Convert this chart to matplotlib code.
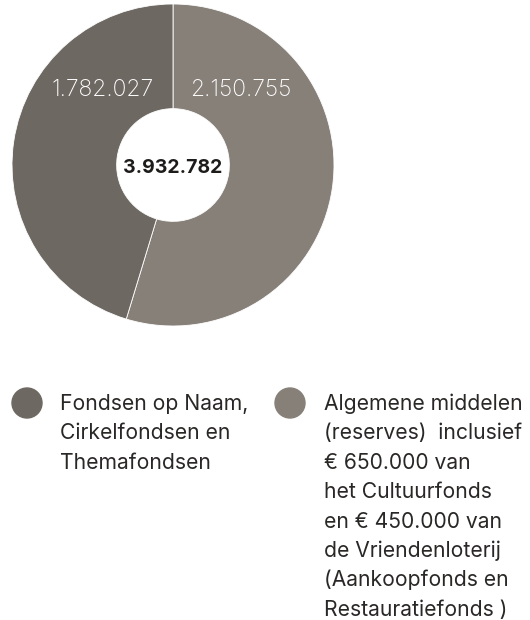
import matplotlib.pyplot as plt
from matplotlib.patches import Circle

# data
labels = [["Algemene middelen", "(reserves)  inclusief", "€ 650.000 van",
           "het Cultuurfonds", "en € 450.000 van", "de Vriendenloterij",
           "(Aankoopfonds en", "Restauratiefonds )"],
          ["Fondsen op Naam,", "Cirkelfondsen en", "Themafondsen"]]
values = [2150755, 1782027]
value_text = ["2.150.755", "1.782.027"]
total_text = "3.932.782"
colors = ["#878079", "#6e6862"]

W, H = 530, 620
fig = plt.figure(figsize=(W / 100, H / 100), dpi=100)

# donut
cx, cy, r = 173, 165, 161
ax = fig.add_axes([(cx - r) / W, (H - cy - r) / H, 2 * r / W, 2 * r / H])
ax.pie(values, colors=colors, startangle=90, counterclock=False, radius=1,
       wedgeprops=dict(width=0.65, edgecolor="white", linewidth=0.6))
ax.set_xlim(-1, 1)
ax.set_ylim(-1, 1)
ax.axis("off")

ax.text(0.42, 0.465, value_text[0], color="white", fontsize=16.5, family="Inter",
        fontweight="light", ha="center", va="center")
ax.text(-0.435, 0.465, value_text[1], color="white", fontsize=16.5, family="Inter",
        fontweight="light", ha="center", va="center")
ax.text(0, -0.02, total_text, color="#1e1c1a", fontsize=14, family="Inter",
        fontweight="bold", ha="center", va="center")

# legend in pixel coordinates
lg = fig.add_axes([0, 0, 1, 1])
lg.set_xlim(0, W)
lg.set_ylim(H, 0)
lg.axis("off")
legend_pos = [(290, 324), (27, 60)]
for (x0, tx), lines, c in zip(legend_pos, labels, colors):
    lg.add_patch(Circle((x0, 403), 15, color=c))
    for i, line in enumerate(lines):
        lg.text(tx, 410 + i * 29.4, line, fontsize=15.2, family="Inter",
                color="#2a2826", ha="left", va="baseline")

fig.savefig("out.png", dpi=100)
